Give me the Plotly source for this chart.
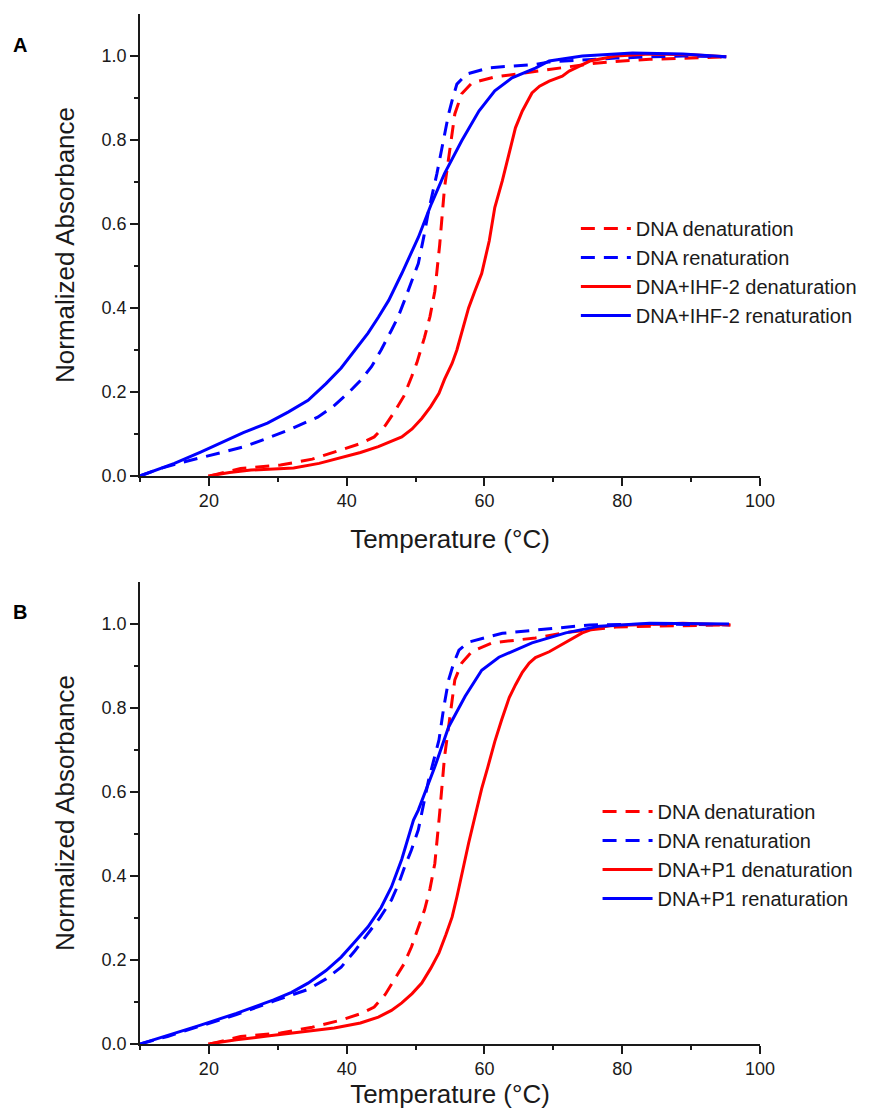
import plotly.graph_objects as go

# ---------------- Panel A data ----------------
A_dna_den_x = [20.2, 22.5, 24.6, 27.5, 30.4, 35.0, 39.2, 42.0, 44.0, 45.6, 46.9, 48.3, 49.4, 50.2, 51.3, 52.1, 52.8, 53.5, 54.2, 55.0, 55.7, 56.7, 58.2, 61.5, 67.4, 72.0, 76.1, 80.0, 84.0, 90.0, 95.1]
A_dna_den_y = [0.0, 0.010, 0.018, 0.022, 0.026, 0.040, 0.062, 0.077, 0.093, 0.120, 0.152, 0.190, 0.235, 0.270, 0.330, 0.380, 0.440, 0.550, 0.686, 0.780, 0.862, 0.910, 0.936, 0.950, 0.964, 0.975, 0.983, 0.988, 0.992, 0.995, 0.998]

A_dna_ren_x = [10, 13, 16.3, 20, 25.0, 28, 31.5, 35.8, 38, 40.2, 42, 43.6, 45, 46.5, 47.5, 48.4, 49.4, 50.4, 51.2, 51.9, 53.1, 54.1, 54.8, 55.4, 56.0, 57.4, 60.7, 67.4, 69.4, 74, 79.1, 84, 88.8, 95.1]
A_dna_ren_y = [0, 0.018, 0.033, 0.048, 0.069, 0.087, 0.109, 0.140, 0.165, 0.197, 0.227, 0.260, 0.300, 0.347, 0.380, 0.418, 0.460, 0.506, 0.570, 0.632, 0.720, 0.805, 0.862, 0.900, 0.933, 0.957, 0.972, 0.980, 0.986, 0.990, 0.995, 0.998, 1.0, 0.998]

A_ihf_den_x = [19.9, 23, 26.1, 29, 32.3, 36, 39.2, 42, 44.6, 46.5, 48.0, 49.5, 50.9, 52.2, 53.4, 54.2, 55.3, 56.0, 56.7, 57.7, 58.6, 59.6, 60.7, 61.5, 62.6, 63.6, 64.5, 65.5, 66.9, 68.0, 69.4, 71.3, 72.3, 75.3, 79.1, 84.0, 90, 95.1]
A_ihf_den_y = [0, 0.008, 0.014, 0.016, 0.019, 0.030, 0.043, 0.056, 0.070, 0.082, 0.093, 0.112, 0.137, 0.165, 0.197, 0.230, 0.268, 0.300, 0.340, 0.400, 0.440, 0.482, 0.560, 0.639, 0.703, 0.767, 0.829, 0.869, 0.912, 0.928, 0.940, 0.952, 0.964, 0.988, 1.0, 1.005, 1.003, 0.998]

A_ihf_ren_x = [10, 13, 15, 18.8, 22, 25, 28.5, 31.5, 34.4, 37, 39.2, 41, 43.1, 44.6, 46.1, 48.0, 49.2, 50.4, 52.3, 54.2, 56.7, 59.2, 61.5, 64.0, 67.4, 69.4, 74.2, 81.5, 88.8, 95.1]
A_ihf_ren_y = [0, 0.018, 0.030, 0.057, 0.080, 0.103, 0.126, 0.152, 0.180, 0.220, 0.257, 0.295, 0.340, 0.378, 0.418, 0.482, 0.525, 0.568, 0.648, 0.720, 0.798, 0.869, 0.917, 0.948, 0.971, 0.988, 1.0, 1.007, 1.005, 0.998]

# ---------------- Panel B data ----------------
B_dna_den_x = [20.2, 22.5, 24.6, 27.5, 30.4, 35.0, 39.2, 42.0, 44.0, 45.6, 46.9, 48.3, 49.4, 50.2, 51.3, 52.1, 52.8, 53.5, 54.2, 55.0, 55.7, 56.7, 58.2, 61.1, 67.4, 72.0, 79.1, 85.0, 90.0, 95.7]
B_dna_den_y = [0.0, 0.010, 0.018, 0.022, 0.026, 0.040, 0.057, 0.072, 0.088, 0.118, 0.152, 0.190, 0.231, 0.268, 0.319, 0.370, 0.430, 0.550, 0.683, 0.780, 0.867, 0.907, 0.935, 0.955, 0.967, 0.980, 0.993, 0.995, 0.996, 0.998]

B_dna_ren_x = [10, 14, 18.8, 24, 29.4, 32, 34.4, 37, 39.2, 41.2, 43.1, 44.8, 46.5, 47.5, 48.4, 49.4, 50.4, 51.2, 51.9, 53.4, 54.1, 54.8, 55.5, 56.3, 57.7, 62.6, 69.9, 75.3, 85, 95.5]
B_dna_ren_y = [0, 0.018, 0.043, 0.070, 0.102, 0.116, 0.130, 0.155, 0.183, 0.222, 0.264, 0.300, 0.343, 0.380, 0.421, 0.462, 0.510, 0.570, 0.629, 0.724, 0.802, 0.867, 0.905, 0.938, 0.957, 0.978, 0.990, 0.998, 1.0, 0.998]

B_p1_den_x = [19.9, 24, 28.5, 33, 38.2, 42, 44.6, 46.5, 48.0, 49.5, 50.9, 52.2, 53.4, 54.4, 55.3, 56.0, 56.7, 57.7, 58.6, 59.6, 60.5, 61.5, 62.5, 63.6, 64.5, 65.5, 66.5, 67.4, 69.4, 70.9, 72.5, 74.2, 76.0, 78.2, 88.8, 95.7]
B_p1_den_y = [0, 0.010, 0.019, 0.027, 0.038, 0.050, 0.064, 0.080, 0.098, 0.120, 0.145, 0.180, 0.217, 0.260, 0.302, 0.350, 0.405, 0.478, 0.540, 0.608, 0.660, 0.720, 0.772, 0.825, 0.855, 0.885, 0.907, 0.920, 0.934, 0.948, 0.963, 0.979, 0.990, 0.996, 1.002, 0.998]

B_p1_ren_x = [10, 14, 18.8, 24, 29.4, 32, 34.4, 37, 39.2, 41, 43.1, 45, 46.5, 48, 49.7, 50.4, 52.3, 52.8, 54.8, 56.7, 57.2, 59.6, 62.1, 66.9, 71.8, 76.7, 84, 95.5]
B_p1_ren_y = [0, 0.020, 0.045, 0.073, 0.105, 0.123, 0.145, 0.175, 0.207, 0.240, 0.279, 0.325, 0.374, 0.440, 0.533, 0.557, 0.636, 0.660, 0.755, 0.815, 0.828, 0.890, 0.921, 0.955, 0.979, 0.995, 1.002, 1.0]

legend_A = ["DNA denaturation", "DNA renaturation", "DNA+IHF-2 denaturation", "DNA+IHF-2 renaturation"]
legend_B = ["DNA denaturation", "DNA renaturation", "DNA+P1 denaturation", "DNA+P1 renaturation"]

x_ticks = [20, 40, 60, 80, 100]
x_minor = [10, 30, 50, 70, 90]
y_ticks = [0.0, 0.2, 0.4, 0.6, 0.8, 1.0]
y_minor = [0.1, 0.3, 0.5, 0.7, 0.9]

RED = "#ff0000"
BLUE = "#0000ff"
DASH = "14px,9px"
FONT = "Liberation Sans, Arial, sans-serif"
INK = "#1a1a1a"

fig = go.Figure()

def add(x, y, name, color, dash, xa, ya, leg):
    fig.add_trace(go.Scatter(x=x, y=y, name=name, mode="lines",
                             line=dict(color=color, width=3, dash=dash),
                             xaxis=xa, yaxis=ya, legend=leg))

add(A_dna_den_x, A_dna_den_y, legend_A[0], RED, DASH, "x", "y", "legend")
add(A_dna_ren_x, A_dna_ren_y, legend_A[1], BLUE, DASH, "x", "y", "legend")
add(A_ihf_den_x, A_ihf_den_y, legend_A[2], RED, "solid", "x", "y", "legend")
add(A_ihf_ren_x, A_ihf_ren_y, legend_A[3], BLUE, "solid", "x", "y", "legend")

add(B_dna_den_x, B_dna_den_y, legend_B[0], RED, DASH, "x2", "y2", "legend2")
add(B_dna_ren_x, B_dna_ren_y, legend_B[1], BLUE, DASH, "x2", "y2", "legend2")
add(B_p1_den_x, B_p1_den_y, legend_B[2], RED, "solid", "x2", "y2", "legend2")
add(B_p1_ren_x, B_p1_ren_y, legend_B[3], BLUE, "solid", "x2", "y2", "legend2")

def xaxis(anchor):
    return dict(anchor=anchor, range=[10, 100], tickvals=x_ticks, ticks="outside",
                ticklen=8, tickwidth=1.5, tickcolor=INK, showline=True, linecolor=INK,
                linewidth=1.5, showgrid=False, zeroline=False, automargin=False,
                tickfont=dict(size=18, color=INK, family=FONT),
                minor=dict(tickvals=x_minor, ticks="outside", ticklen=4, tickwidth=1.5,
                           tickcolor=INK, showgrid=False),
                title=dict(text="Temperature (°C)", font=dict(size=26, color=INK, family=FONT),
                           standoff=19))

def yaxis(anchor, domain):
    return dict(anchor=anchor, domain=domain, range=[0, 1.1], tickvals=y_ticks, tickformat=".1f",
                ticks="outside", ticklen=8, tickwidth=1.5, tickcolor=INK, showline=True,
                linecolor=INK, linewidth=1.5, showgrid=False, zeroline=False, automargin=False,
                tickfont=dict(size=18, color=INK, family=FONT),
                minor=dict(tickvals=y_minor, ticks="outside", ticklen=4, tickwidth=1.5,
                           tickcolor=INK, showgrid=False),
                title=dict(text="Normalized Absorbance", font=dict(size=26, color=INK, family=FONT),
                           standoff=20))

leg_common = dict(font=dict(size=20, color=INK, family=FONT), bgcolor="rgba(0,0,0,0)",
                  borderwidth=0, tracegroupgap=0, itemwidth=50, xanchor="left", yanchor="top")

# page body has an 8px margin, so the figure is 16px smaller than the window
fig.update_layout(
    width=866, height=1101,
    margin=dict(l=132, r=114, t=6, b=65, autoexpand=False),
    paper_bgcolor="white", plot_bgcolor="white",
    font=dict(family=FONT, color=INK),
    xaxis=xaxis("y"),
    yaxis=yaxis("x", [0.5515, 1.0]),
    xaxis2=xaxis("y2"),
    yaxis2=yaxis("x2", [0.0, 0.4485]),
    legend=dict(x=0.703, y=0.8107, **leg_common),
    legend2=dict(x=0.738, y=0.2447, **leg_common),
    showlegend=True,
    annotations=[
        dict(text="<b>A</b>", x=-0.1935, y=0.970, xref="paper", yref="paper", showarrow=False,
             xanchor="center", yanchor="middle", font=dict(size=20, color="black", family=FONT)),
        dict(text="<b>B</b>", x=-0.1935, y=0.4195, xref="paper", yref="paper", showarrow=False,
             xanchor="center", yanchor="middle", font=dict(size=20, color="black", family=FONT)),
    ],
)

fig.write_html("out.html")
